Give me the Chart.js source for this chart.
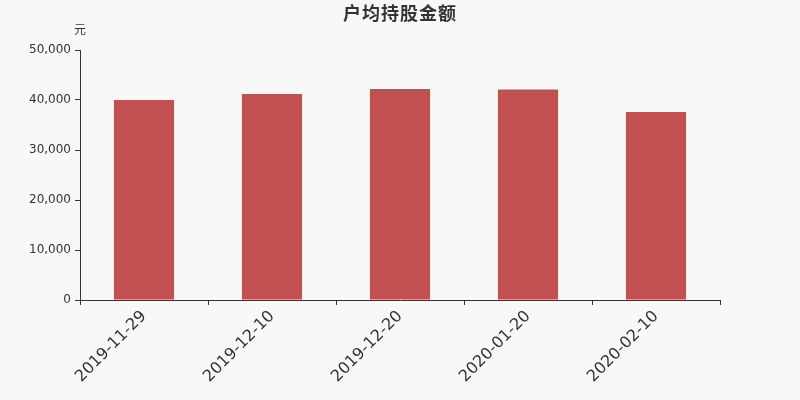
<!DOCTYPE html>
<html>
<head>
<meta charset="utf-8">
<script src="https://cdn.jsdelivr.net/npm/chart.js@4.4.0/dist/chart.umd.min.js"></script>
<style>
  html, body { margin: 0; padding: 0; background: #f8f8f8; }
  #wrap { width: 800px; height: 400px; }
</style>
</head>
<body>
<div id="wrap"><canvas id="amountChart" width="800" height="400"></canvas></div>
<script>
// chart data
const dates = ['2019-11-29', '2019-12-10', '2019-12-20', '2020-01-20', '2020-02-10'];
const amounts = [40000, 41200, 42200, 42100, 37600];
const yTicks = [0, 10000, 20000, 30000, 40000, 50000];

const chartTitle = '户均持股金额';
const unitLabel = '元';

// title and unit drawn on top of the canvas
const headerPlugin = {
  id: 'header',
  afterDraw(chart) {
    const c = chart.ctx;
    c.save();
    c.fillStyle = '#333';
    c.textAlign = 'center';
    c.textBaseline = 'middle';
    c.font = 'bold 18px "Noto Sans CJK SC", sans-serif';
    c.letterSpacing = '1px';
    c.fillText(chartTitle, 400, 13);
    c.letterSpacing = '0px';
    c.font = '12px "Noto Sans CJK SC", sans-serif';
    c.fillText(unitLabel, chart.chartArea.left, 29);
    c.restore();
  }
};

const bgPlugin = {
  id: 'bg',
  beforeDraw(chart) {
    const c = chart.ctx;
    c.save();
    c.fillStyle = '#f8f8f8';
    c.fillRect(0, 0, chart.width, chart.height);
    c.restore();
  }
};

new Chart(document.getElementById('amountChart'), {
  type: 'bar',
  data: {
    labels: dates,
    datasets: [{
      data: amounts,
      backgroundColor: '#c1504e',
      categoryPercentage: 1,
      barPercentage: 0.47
    }]
  },
  options: {
    responsive: false,
    animation: false,
    layout: { padding: { top: 50, right: 80, left: 0, bottom: 0 } },
    plugins: { legend: { display: false }, tooltip: { enabled: false } },
    scales: {
      x: {
        grid: { display: true, drawOnChartArea: false, offset: true, tickLength: 5, color: '#333' },
        border: { color: '#333' },
        ticks: {
          color: '#333',
          font: { size: 16, family: 'DejaVu Sans' },
          maxRotation: 45,
          minRotation: 45,
          padding: 2
        },
        afterFit(axis) { axis.height = 100; }
      },
      y: {
        min: 0,
        max: 50000,
        afterBuildTicks(axis) { axis.ticks = yTicks.map(v => ({ value: v })); },
        grid: { display: true, drawOnChartArea: false, tickLength: 5, color: '#333' },
        border: { color: '#333' },
        ticks: {
          color: '#333',
          font: { size: 12, family: 'DejaVu Sans' },
          padding: 4,
          callback: v => v.toLocaleString('en-US')
        },
        afterFit(axis) { axis.width = 80; }
      }
    }
  },
  plugins: [bgPlugin, headerPlugin]
});
</script>
</body>
</html>
